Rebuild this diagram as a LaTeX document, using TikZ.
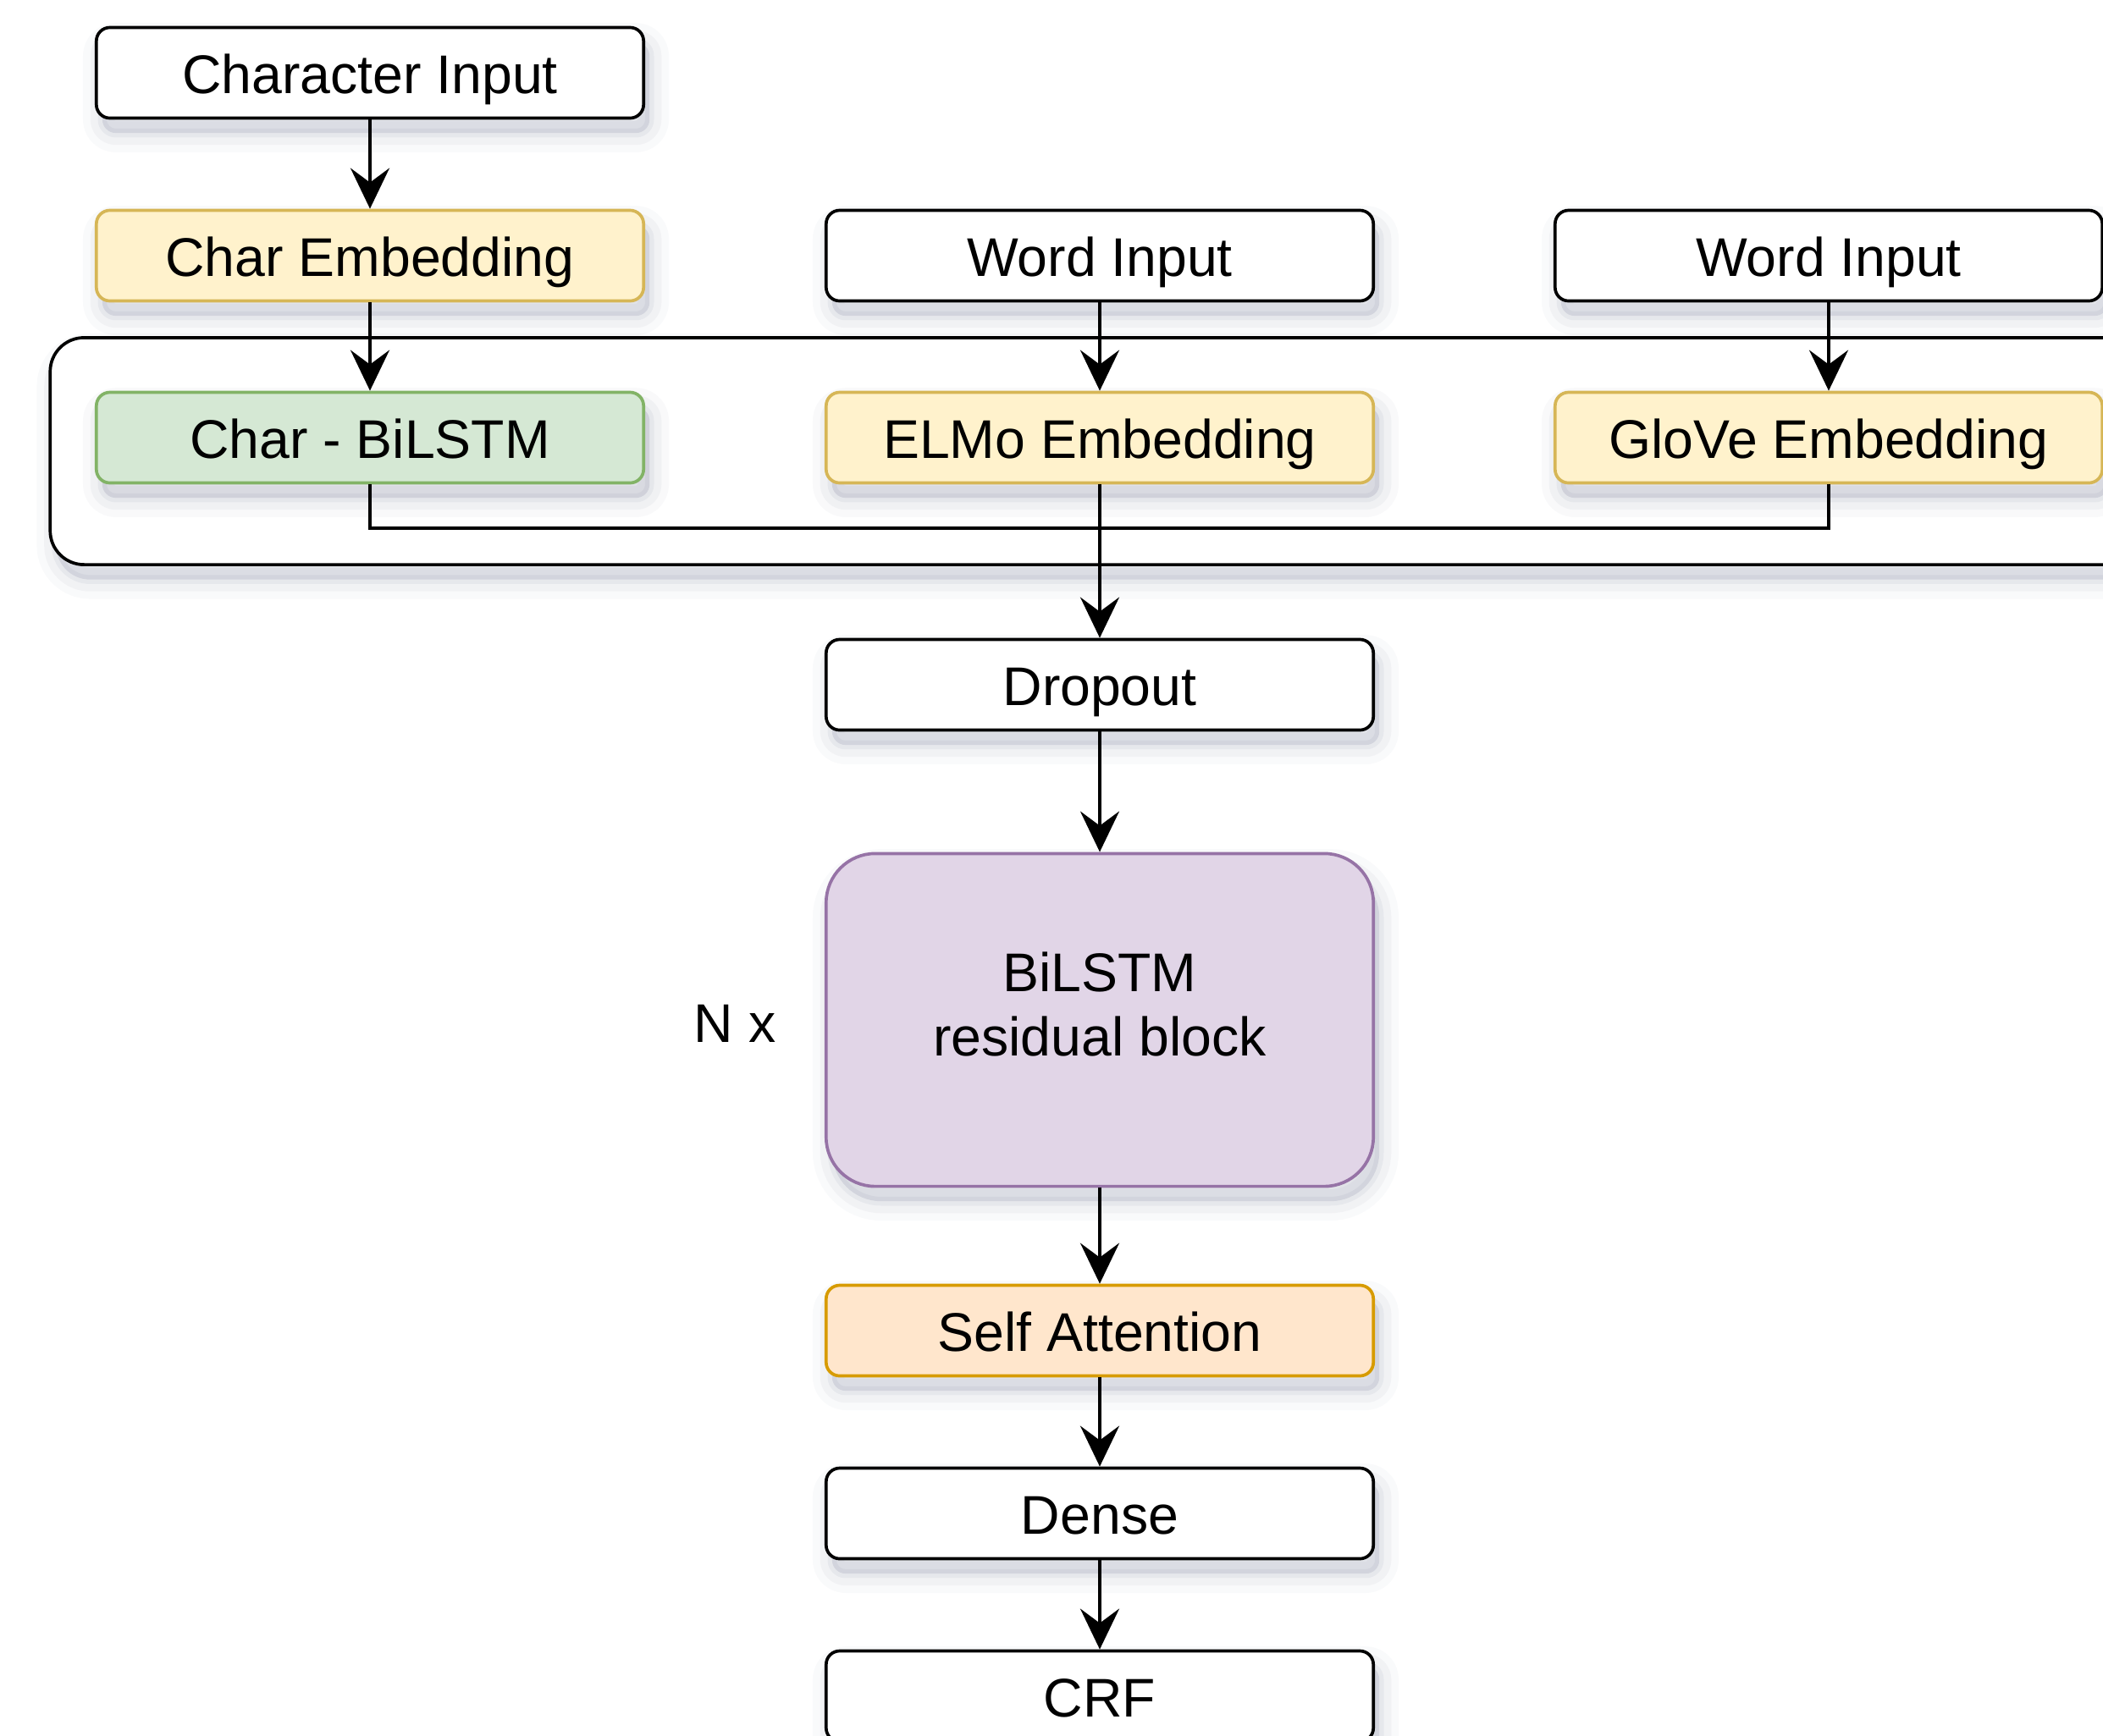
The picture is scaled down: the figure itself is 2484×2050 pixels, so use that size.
\documentclass[tikz,border=0pt]{standalone}
\usepackage{fontspec}
\setmainfont{Liberation Sans}
\usetikzlibrary{arrows.meta}

\definecolor{yfill}{HTML}{FFF2CC}
\definecolor{yline}{HTML}{D6B656}
\definecolor{gfill}{HTML}{D5E8D4}
\definecolor{gline}{HTML}{82B366}
\definecolor{pfill}{HTML}{E1D5E7}
\definecolor{pline}{HTML}{9673A6}
\definecolor{ofill}{HTML}{FFE6CC}
\definecolor{oline}{HTML}{D79B00}
\definecolor{shade}{HTML}{5A6482}

\tikzset{
  % soft drop shadow built from a few translucent halos
  softshadow/.style={
    preaction={draw=shade, fill=shade, opacity=0.035, line width=13pt, line join=round,
      transform canvas={xshift=2pt, yshift=-5pt}},
    preaction={draw=shade, fill=shade, opacity=0.05, line width=8pt, line join=round,
      transform canvas={xshift=2pt, yshift=-5pt}},
    preaction={draw=shade, fill=shade, opacity=0.07, line width=3pt, line join=round,
      transform canvas={xshift=2pt, yshift=-5pt}}},
  layer/.style={draw=black, fill=white, line width=1.05pt, rounded corners=0.16cm,
      minimum width=6.46cm, minimum height=1.07cm, inner sep=0pt,
      text height=0.52cm, text depth=0.04cm,
      font=\fontsize{18.3}{21.6}\selectfont, softshadow},
  embed/.style={layer, draw=yline, fill=yfill},
  charlstm/.style={layer, draw=gline, fill=gfill},
  resblock/.style={layer, draw=pline, fill=pfill, rounded corners=0.58cm,
      minimum height=3.93cm, align=center, text height=, text depth=0.38cm},
  attn/.style={layer, draw=oline, fill=ofill},
  frame/.style={draw=black, fill=white, line width=1.05pt, rounded corners=0.4cm,
      minimum width=25.4cm, minimum height=2.68cm, inner sep=0pt, softshadow},
  flow/.style={line width=1.05pt, -{Stealth[length=0.48cm, width=0.46cm, inset=0.17cm]}},
  plain/.style={line width=1.05pt},
  caption/.style={font=\fontsize{18.3}{21.6}\selectfont}
}

\begin{document}
\begin{tikzpicture}[x=0.01cm, y=-0.01cm]
  \path[use as bounding box, clip] (0,0) rectangle (2484,2050);

  % container around the three embedding layers
  \node[frame] (group) at (1330,533) {};

  % inputs
  \node[layer] (ci) at (437,86) {Character Input};
  \node[embed] (ce) at (437,302) {Char Embedding};
  \node[layer] (wa) at (1299,302) {Word Input};
  \node[layer] (wb) at (2160,302) {Word Input};

  % embedding layers
  \node[charlstm] (cb) at (437,517) {Char - BiLSTM};
  \node[embed] (el) at (1299,517) {ELMo Embedding};
  \node[embed] (gl) at (2160,517) {GloVe Embedding};

  % main stack
  \node[layer] (drop) at (1299,809) {Dropout};
  \node[resblock] (res) at (1299,1205) {BiLSTM\\residual block};
  \node[caption] (nx) at (868,1209) {N x};
  \node[attn] (sa) at (1299,1572) {Self Attention};
  \node[layer] (dense) at (1299,1788) {Dense};
  \node[layer] (crf) at (1299,2004) {CRF};

  % merge point of the embeddings
  \coordinate (mj) at (1299,624);

  % connectors
  \draw[flow] (ci) -- (ce);
  \draw[flow] (ce) -- (cb);
  \draw[flow] (wa) -- (el);
  \draw[flow] (wb) -- (gl);
  \draw[plain] (cb) |- (mj) -| (gl);
  \draw[flow] (el) -- (drop);
  \draw[flow] (drop) -- (res);
  \draw[flow] (res) -- (sa);
  \draw[flow] (sa) -- (dense);
  \draw[flow] (dense) -- (crf);
\end{tikzpicture}
\end{document}
